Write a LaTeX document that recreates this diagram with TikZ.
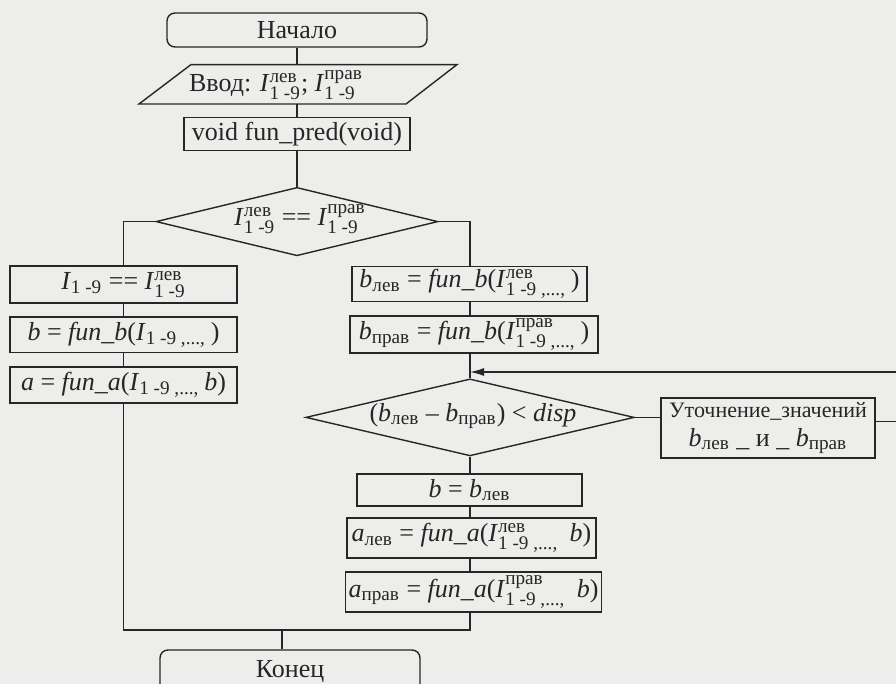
\documentclass[tikz,border=0pt]{standalone}
\usepackage{fontspec}
\usepackage{amsmath}
\setmainfont{Liberation Serif}
\usetikzlibrary{shapes.geometric,arrows.meta,calc}
\DeclareMathSizes{13}{13}{9.6}{7.5}
\definecolor{bg}{HTML}{EDEDEB}
\definecolor{ink}{HTML}{262626}
\newcommand{\vI}[2]{\textit{I}$^{\text{#1}}_{\text{#2}}$}
\newcommand{\vJ}[1]{\textit{I}$_{\text{#1}}$}
\newcommand{\vsub}[2]{\textit{#1}$_{\text{#2}}$}
\tikzset{
  mfont/.style={font=\fontsize{13}{15.5}\selectfont},
  box/.style={draw=ink, line width=0.7pt, rectangle, inner sep=0pt, text=ink, mfont},
  rbox/.style={box, rounded corners=4pt},
  dia/.style={draw=ink, line width=0.7pt, diamond, inner sep=0pt},
  lbl/.style={text=ink, inner sep=0pt, mfont},
  ln/.style={draw=ink, line width=0.7pt},
}
\begin{document}
\begin{tikzpicture}[x=0.5pt,y=-0.5pt]
\useasboundingbox[fill=bg] (0,0) rectangle (896,684);

% nodes
\node[rbox, minimum width=130pt, minimum height=17pt] (start) at (297,30) {Начало};
\node[inner sep=0pt, minimum width=100pt, minimum height=19.7pt] (in) at (297,84.3) {};
\draw[ln] (191,64.6) -- (457,64.6) -- (406,104) -- (139,104) -- cycle;
\node[lbl] (intext) at (276,85) {Ввод: \vI{лев}{1 -9}; \vI{прав}{1 -9}};
\node[box, minimum width=113pt, minimum height=16.5pt] (fp) at (297,134) {void fun\_pred(void)};
\node[dia, minimum width=141pt, minimum height=34.2pt] (d1) at (297,221.6) {};
\node[lbl] (d1text) at (300,219) {\vI{лев}{1 -9} == \vI{прав}{1 -9}};

\node[box, minimum width=113.5pt, minimum height=18.5pt] (L1) at (123.5,284.5) {\vJ{1 -9} == \vI{лев}{1 -9}};
\node[box, minimum width=113.5pt, minimum height=17.75pt] (L2) at (123.5,334.75) {\textit{b} = \textit{fun\_b}(\vJ{1 -9 ,..., })};
\node[box, minimum width=113.5pt, minimum height=18pt] (L3) at (123.5,385) {\textit{a} = \textit{fun\_a}(\vJ{1 -9 ,..., }\textit{b})};

\node[box, minimum width=117.5pt, minimum height=17.5pt] (R1) at (469.5,284) {\vsub{b}{лев} = \textit{fun\_b}(\vI{лев}{1 -9 ,..., })};
\node[box, minimum width=124pt, minimum height=18.5pt] (R2) at (474,334.5) {\vsub{b}{прав} = \textit{fun\_b}(\vI{прав}{1 -9 ,..., })};

\node[dia, minimum width=164.25pt, minimum height=38.5pt] (d2) at (470,417.4) {};
\node[lbl] (d2text) at (473,416) {(\vsub{b}{лев} – \vsub{b}{прав}) < \textit{disp}};

\node[box, minimum width=107pt, minimum height=30pt, align=center] (U) at (768,428)
  {{\fontsize{11}{13}\selectfont Уточнение\_значений}\\[-1pt] \vsub{b}{лев} \_ и \_ \vsub{b}{прав}};

\node[box, minimum width=112.5pt, minimum height=16pt] (B) at (469.5,490) {\textit{b} = \vsub{b}{лев}};
\node[box, minimum width=124.5pt, minimum height=20pt] (AL) at (471.5,538) {\vsub{a}{лев} = \textit{fun\_a}(\vI{лев}{1 -9 ,..., } \textit{b})};
\node[box, minimum width=128pt, minimum height=20pt] (AP) at (473.5,592) {\vsub{a}{прав} = \textit{fun\_a}(\vI{прав}{1 -9 ,..., } \textit{b})};

\node[rbox, minimum width=130pt, minimum height=22pt] (end) at (290,672) {Конец};

% helper coordinates
\coordinate (sp) at (470,0);
\coordinate (loopR) at (912,372);
\coordinate (mrg) at (282,630);

% connectors
\draw[ln] (start.south) -- (in.north);
\draw[ln] (in.south) -- (fp.north);
\draw[ln] (fp.south) -- (d1.north);
\draw[ln] (d1.west) -| (L1.north);
\draw[ln] (d1.east) -| (sp |- R1.north);
\draw[ln] (L1.south) -- (L2.north);
\draw[ln] (L2.south) -- (L3.north);
\draw[ln] (sp |- R1.south) -- (sp |- R2.north);
\draw[ln] (sp |- R2.south) -- (d2.north);
\draw[ln] (d2.south) -- (sp |- B.north);
\draw[ln] (sp |- B.south) -- (sp |- AL.north);
\draw[ln] (sp |- AL.south) -- (sp |- AP.north);
\draw[ln] (d2.east) -- (d2.east -| U.west);
\draw[ln, -{Latex[length=7pt,width=4pt]}] ($(U.east)+(0,-6.3)$) -| (loopR) -- (sp |- loopR);
\draw[ln] (L3.south) |- (sp |- mrg) -- (sp |- AP.south);
\draw[ln] (mrg) -- (mrg |- end.north);
\end{tikzpicture}
\end{document}
